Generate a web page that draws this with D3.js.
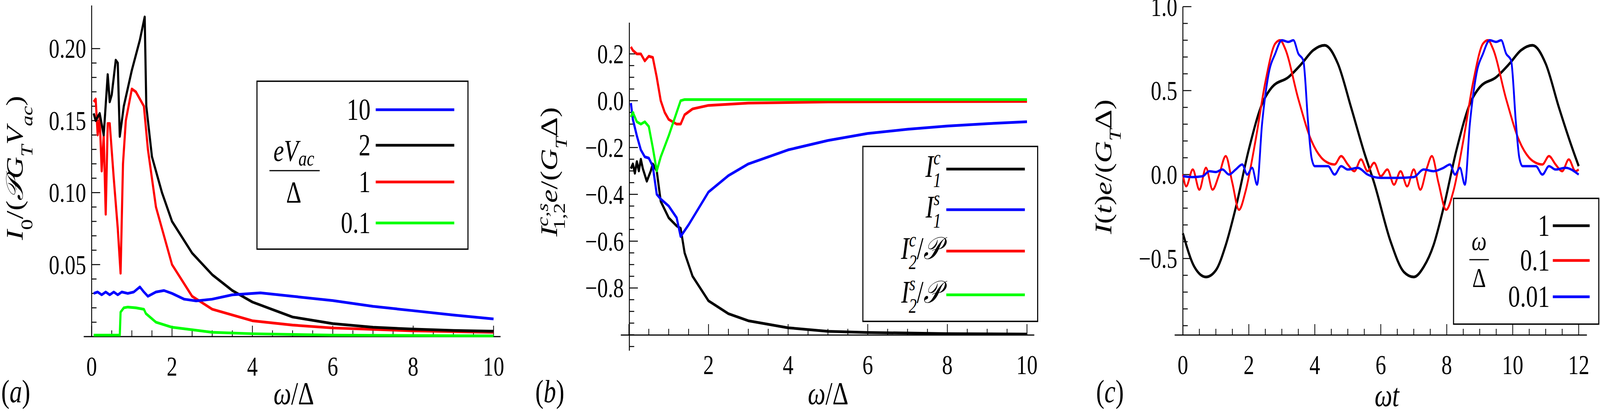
<!DOCTYPE html><html><head><meta charset="utf-8"><script src="https://cdn.jsdelivr.net/npm/d3@7"></script>
<style>html,body{margin:0;padding:0;background:#fff;overflow:hidden}svg{display:block}text{font-family:"Liberation Serif","DejaVu Serif","Times New Roman",serif}</style></head><body><svg id="s" viewBox="0 0 5255 1073" preserveAspectRatio="none" style="width:100vw;height:100vh" font-family="Liberation Serif, DejaVu Serif, serif"></svg><script>
// Panel (a)
const aBlue=[[0.05,0.030],[0.15,0.031],[0.25,0.029],[0.35,0.031],[0.45,0.029],[0.55,0.031],[0.65,0.029],[0.75,0.031],[0.9,0.030],[1.05,0.031],[1.2,0.0345],[1.3,0.031],[1.4,0.028],[1.6,0.031],[1.8,0.032],[2.0,0.030],[2.3,0.026],[2.6,0.0248],[3.0,0.026],[3.5,0.029],[4.2,0.0304],[5.0,0.028],[6.0,0.025],[7.0,0.021],[8.0,0.018],[9.0,0.015],[10,0.0123]];
const aBlack=[[0.05,0.155],[0.1,0.15],[0.2,0.155],[0.3,0.14],[0.4,0.182],[0.45,0.163],[0.5,0.168],[0.6,0.192],[0.65,0.19],[0.7,0.139],[0.8,0.16],[1.0,0.185],[1.2,0.206],[1.32,0.222],[1.36,0.16],[1.5,0.125],[1.75,0.1],[2.0,0.08],[2.5,0.058],[3.0,0.043],[3.5,0.032],[4.0,0.024],[5.0,0.0136],[6.0,0.009],[7.0,0.0065],[8.0,0.0052],[9.0,0.0043],[10,0.0037]];
const aRed=[[0.05,0.163],[0.1,0.165],[0.15,0.14],[0.2,0.152],[0.25,0.115],[0.3,0.14],[0.35,0.085],[0.4,0.148],[0.45,0.148],[0.55,0.11],[0.65,0.075],[0.72,0.044],[0.78,0.12],[0.85,0.15],[1.0,0.172],[1.1,0.17],[1.3,0.16],[1.4,0.13],[1.6,0.09],[2.0,0.05],[2.5,0.028],[3.0,0.019],[4.0,0.011],[5.0,0.008],[6.0,0.006],[8.0,0.004],[10,0.003]];
const aGreen=[[0.05,0.001],[0.4,0.001],[0.7,0.001],[0.72,0.017],[0.8,0.02],[0.9,0.0205],[1.1,0.020],[1.3,0.019],[1.35,0.016],[1.6,0.010],[2.0,0.0065],[3.0,0.003],[4.0,0.002],[6.0,0.001],[10,0.0005]];
const aLegend=["10","2","1","0.1"];
const aTicksY=[0.05,0.10,0.15,0.20];
// Panel (b)
const bI1c=[[0.05,-0.29],[0.1,-0.27],[0.15,-0.31],[0.2,-0.26],[0.25,-0.3],[0.3,-0.25],[0.35,-0.29],[0.45,-0.344],[0.55,-0.3],[0.6,-0.27],[0.7,-0.3],[0.8,-0.43],[1.0,-0.50],[1.2,-0.535],[1.3,-0.545],[1.4,-0.65],[1.6,-0.75],[2.0,-0.855],[2.5,-0.91],[3.0,-0.94],[4.0,-0.97],[5.0,-0.985],[6.0,-0.99],[8.0,-0.995],[10,-0.997]];
const bI1s=[[0.05,-0.01],[0.1,-0.08],[0.2,-0.15],[0.3,-0.21],[0.4,-0.24],[0.5,-0.245],[0.6,-0.28],[0.7,-0.40],[0.8,-0.42],[1.0,-0.45],[1.2,-0.50],[1.3,-0.58],[1.5,-0.53],[2.0,-0.39],[2.5,-0.32],[3.0,-0.27],[4.0,-0.21],[5.0,-0.17],[6.0,-0.14],[7.0,-0.122],[8.0,-0.108],[9.0,-0.098],[10,-0.09]];
const bI2c=[[0.05,0.23],[0.1,0.215],[0.2,0.2],[0.3,0.2],[0.4,0.17],[0.5,0.19],[0.6,0.185],[0.7,0.1],[0.8,0.0],[0.9,-0.05],[1.0,-0.08],[1.2,-0.1],[1.3,-0.1],[1.4,-0.06],[1.6,-0.035],[2.0,-0.02],[3.0,-0.01],[5.0,-0.005],[10,-0.003]];
const bI2s=[[0.05,-0.07],[0.1,-0.05],[0.2,-0.09],[0.3,-0.1],[0.4,-0.09],[0.5,-0.11],[0.6,-0.2],[0.7,-0.3],[0.8,-0.24],[1.0,-0.15],[1.2,-0.05],[1.3,0.0],[1.4,0.005],[10,0.005]];
const bTicksY=[0.2,0.0,-0.2,-0.4,-0.6,-0.8];
// Panel (c)
const cBlack=[[0,-0.35],[0.35,-0.55],[0.7,-0.61],[1.0,-0.57],[1.3,-0.42],[1.6,-0.2],[2.0,0.15],[2.4,0.42],[2.7,0.52],[3.2,0.58],[3.6,0.66],[3.95,0.74],[4.3,0.77],[4.7,0.66],[5.1,0.4],[5.5,0.13],[5.8,-0.05],[6.3,-0.4],[6.7,-0.58],[7.0,-0.61],[7.3,-0.55],[7.6,-0.42],[7.9,-0.2],[8.3,0.15],[8.7,0.42],[9.0,0.52],[9.5,0.58],[9.9,0.66],[10.25,0.74],[10.6,0.77],[11.0,0.66],[11.4,0.4],[11.8,0.16],[12.0,0.05]];
const cRed=[[0,0.0],[0.1,-0.07],[0.3,0.03],[0.5,-0.09],[0.7,0.04],[0.9,-0.09],[1.1,0.0],[1.3,0.11],[1.5,-0.05],[1.7,-0.21],[1.9,-0.1],[2.2,0.2],[2.5,0.55],[2.8,0.78],[2.95,0.8],[3.1,0.75],[3.5,0.45],[3.9,0.2],[4.2,0.1],[4.4,0.07],[4.6,0.06],[4.8,0.11],[5.0,0.06],[5.2,0.02],[5.4,0.09],[5.6,0.02],[5.8,0.07],[6.0,-0.01],[6.2,0.03],[6.4,-0.06],[6.6,0.02],[6.8,-0.07],[7.0,0.03],[7.2,-0.09],[7.4,0.04],[7.55,0.11],[7.75,-0.05],[7.98,-0.21],[8.2,-0.1],[8.5,0.2],[8.8,0.55],[9.1,0.78],[9.25,0.8],[9.4,0.75],[9.8,0.45],[10.2,0.2],[10.5,0.1],[10.7,0.07],[10.9,0.06],[11.1,0.11],[11.3,0.06],[11.5,0.02],[11.7,0.09],[11.9,0.02],[12.0,0.03]];
const cBlue=[[0,-0.01],[0.3,-0.015],[0.6,-0.01],[0.8,0.02],[1.0,0.015],[1.2,0.03],[1.4,0.0],[1.6,0.03],[1.8,0.06],[1.95,0.0],[2.1,0.04],[2.25,-0.06],[2.4,0.3],[2.6,0.6],[2.8,0.72],[3.0,0.8],[3.2,0.79],[3.35,0.8],[3.5,0.72],[3.65,0.68],[3.8,0.3],[3.9,0.1],[4.0,0.05],[4.2,0.05],[4.4,0.05],[4.6,0.0],[4.8,0.05],[5.0,0.03],[5.3,0.04],[5.6,0.0],[6.0,-0.02],[6.5,-0.02],[7.0,-0.015],[7.3,0.03],[7.6,0.02],[7.9,0.04],[8.1,0.06],[8.25,0.0],[8.4,0.04],[8.55,-0.06],[8.7,0.3],[8.9,0.6],[9.1,0.72],[9.3,0.8],[9.5,0.79],[9.65,0.8],[9.8,0.72],[9.95,0.68],[10.1,0.3],[10.2,0.1],[10.3,0.05],[10.5,0.05],[10.7,0.05],[10.9,0.0],[11.1,0.05],[11.3,0.03],[11.6,0.04],[12.0,0.0]];
const cLegend=["1","0.1","0.01"];
const cTicksY=[-0.5,0.0,0.5,1.0];

const svg=d3.select("#s");
const BLUE="#0000ff",RED="#ff0000",GREEN="#00ff00",BLACK="#000";
function panel(o){
  const x=d3.scaleLinear().domain(o.xd).range(o.xr), y=d3.scaleLinear().domain(o.yd).range(o.yr);
  const g=svg.append("g");
  const xt=d3.range(o.xd[0],o.xd[1]+1e-9,o.xminor);
  xt.forEach(v=>{const maj=Math.abs(v/o.xmajor-Math.round(v/o.xmajor))<1e-6;
    g.append("line").attr("x1",x(v)).attr("x2",x(v)).attr("y1",o.axY).attr("y2",o.axY-(maj?28:16)).attr("stroke","#000").attr("stroke-width",2.5);});
  o.xlabels.forEach(v=>g.append("text").attr("x",x(v)).attr("y",o.axY+100).attr("text-anchor","middle").attr("font-size",70).text(v));
  const yt=d3.range(o.yminStart,o.yd[1]+1e-9,o.yminor);
  yt.forEach(v=>{const maj=o.ymaj.some(m=>Math.abs(m-v)<1e-6);
    g.append("line").attr("x1",o.axX).attr("x2",o.axX+(maj?28:16)).attr("y1",y(v)).attr("y2",y(v)).attr("stroke","#000").attr("stroke-width",2.5);});
  o.ymaj.forEach(v=>g.append("text").attr("x",o.axX-18).attr("y",y(v)+24).attr("text-anchor","end").attr("font-size",70).text(o.yfmt(v).replace("-","\u2212")));
  g.append("line").attr("x1",o.axX).attr("x2",o.axX).attr("y1",o.vTop).attr("y2",o.vBot).attr("stroke","#000").attr("stroke-width",3);
  g.append("line").attr("x1",o.hL).attr("x2",o.hR).attr("y1",o.axY).attr("y2",o.axY).attr("stroke","#000").attr("stroke-width",3);
  const line=d3.line().x(d=>x(d[0])).y(d=>y(d[1])).curve(o.curve||d3.curveLinear);
  o.series.forEach(s=>g.append("path").attr("d",line(s.d)).attr("fill","none").attr("stroke",s.c).attr("stroke-width",s.w||7).attr("stroke-linejoin","round"));
  return g;
}
function ytitle(cx,cy,html){svg.append("text").attr("transform",`translate(${cx},${cy}) rotate(-90)`).attr("text-anchor","middle").attr("font-size",78).attr("font-style","italic").html(html);}
function lbl(x,y,t,fs,anchor){return svg.append("text").attr("x",x).attr("y",y).attr("font-size",fs||80).attr("text-anchor",anchor||"start").html(t);}

// (a)
panel({xd:[0,10],xr:[301,1621],yd:[0,0.2],yr:[862,124.5],axX:301,axY:862,vTop:14,vBot:862,hL:275,hR:1644,
 xminor:0.5,xmajor:2,xlabels:[0,2,4,6,8,10],yminStart:0.01,yminor:0.01,ymaj:aTicksY,yfmt:d3.format(".2f"),
 series:[{d:aGreen,c:GREEN},{d:aRed,c:RED},{d:aBlack,c:BLACK},{d:aBlue,c:BLUE}]});
ytitle(75,430,'I<tspan baseline-shift="sub" font-size="55" font-style="normal">0</tspan><tspan font-style="normal">/(</tspan>𝒫G<tspan baseline-shift="sub" font-size="55">T</tspan>V<tspan baseline-shift="sub" font-size="55">ac</tspan><tspan font-style="normal">)</tspan>');
svg.append("rect").attr("x",844).attr("y",208).attr("width",693).attr("height",430).attr("fill","#fff").attr("stroke","#000").attr("stroke-width",3.5);
[BLUE,BLACK,RED,GREEN].forEach((c,i)=>{const yy=[281,372,466,571][i];
 svg.append("line").attr("x1",1234).attr("x2",1492).attr("y1",yy).attr("y2",yy).attr("stroke",c).attr("stroke-width",7);
 lbl(1217,yy+25,aLegend[i],78,"end");});
lbl(965,412,'<tspan font-style="italic">eV</tspan><tspan font-style="italic" font-size="55" dy="12">ac</tspan>',78,"middle");
svg.append("line").attr("x1",885).attr("x2",1050).attr("y1",437).attr("y2",437).attr("stroke","#000").attr("stroke-width",3);
lbl(965,518,'Δ',78,"middle");
lbl(4,1030,'(<tspan font-style="italic">a</tspan>)',82);
lbl(965,1035,'<tspan font-style="italic">ω</tspan>/Δ',82,"middle");

// (b)
panel({xd:[0,10],xr:[2065.5,3373],yd:[-1,0.2],yr:[857.4,138],axX:2067,axY:858,vTop:58,vBot:898,hL:2039,hR:3397,
 xminor:0.5,xmajor:2,xlabels:[2,4,6,8,10],yminStart:-1.05,yminor:0.05,ymaj:bTicksY,yfmt:d3.format(".1f"),
 series:[{d:bI1c,c:BLACK},{d:bI1s,c:BLUE},{d:bI2c,c:RED},{d:bI2s,c:GREEN}]});
ytitle(1830,440,'I<tspan font-size="55" dy="-30">c,s</tspan><tspan font-size="55" dx="-68" dy="55" font-style="normal">1,2</tspan><tspan dy="-25">e</tspan><tspan font-style="normal">/(</tspan>G<tspan baseline-shift="sub" font-size="55">T</tspan><tspan font-style="normal">Δ)</tspan>');
svg.append("rect").attr("x",2834).attr("y",375).attr("width",574).attr("height",448).attr("fill","#fff").attr("stroke","#000").attr("stroke-width",3.5);
const bLab=['I<tspan font-size="52" dy="-32">c</tspan><tspan font-size="52" dx="-24" dy="58">1</tspan>','I<tspan font-size="52" dy="-32">s</tspan><tspan font-size="52" dx="-22" dy="58">1</tspan>','I<tspan font-size="52" dy="-32">c</tspan><tspan font-size="52" dx="-24" dy="58">2</tspan><tspan dy="-26" font-style="normal">/</tspan>𝒫','I<tspan font-size="52" dy="-32">s</tspan><tspan font-size="52" dx="-22" dy="58">2</tspan><tspan dy="-26" font-style="normal">/</tspan>𝒫'];
[BLACK,BLUE,RED,GREEN].forEach((c,i)=>{const yy=[433,537,643,755][i];
 svg.append("line").attr("x1",3108).attr("x2",3366).attr("y1",yy).attr("y2",yy).attr("stroke",c).attr("stroke-width",7);
 lbl(3091,yy+20,bLab[i],80,"end").attr("font-style","italic");});
lbl(1758,1030,'(<tspan font-style="italic">b</tspan>)',82);
lbl(2720,1035,'<tspan font-style="italic">ω</tspan>/Δ',82,"middle");

// (c)
panel({xd:[0,12],xr:[3885,5185],yd:[-0.5,1.0],yr:[662,17],axX:3885,axY:858,vTop:17,vBot:858,hL:3858,hR:5212,
 xminor:0.5,xmajor:2,xlabels:[0,2,4,6,8,10,12],yminStart:-0.9,yminor:0.1,ymaj:cTicksY,yfmt:d3.format(".1f"),curve:d3.curveMonotoneX,
 series:[{d:cBlack,c:BLACK},{d:cRed,c:RED,w:6},{d:cBlue,c:BLUE,w:6}]});
ytitle(3650,427,'I<tspan font-style="normal">(</tspan>t<tspan font-style="normal">)</tspan>e<tspan font-style="normal">/(</tspan>G<tspan baseline-shift="sub" font-size="55">T</tspan><tspan font-style="normal">Δ)</tspan>');
svg.append("rect").attr("x",4774).attr("y",508).attr("width",477).attr("height",322).attr("fill","#fff").attr("stroke","#000").attr("stroke-width",3.5);
[BLACK,RED,BLUE].forEach((c,i)=>{const yy=[578,667,760][i];
 svg.append("line").attr("x1",5100).attr("x2",5221).attr("y1",yy).attr("y2",yy).attr("stroke",c).attr("stroke-width",7);
 lbl(5090,yy+25,cLegend[i],78,"end");});
lbl(4858,640,'<tspan font-style="italic">ω</tspan>',70,"middle");
svg.append("line").attr("x1",4826).attr("x2",4890).attr("y1",665).attr("y2",665).attr("stroke","#000").attr("stroke-width",3);
lbl(4858,735,'Δ',70,"middle");
lbl(3600,1030,'(<tspan font-style="italic">c</tspan>)',82);
lbl(4555,1040,'<tspan font-style="italic">ωt</tspan>',82,"middle");
</script></body></html>
